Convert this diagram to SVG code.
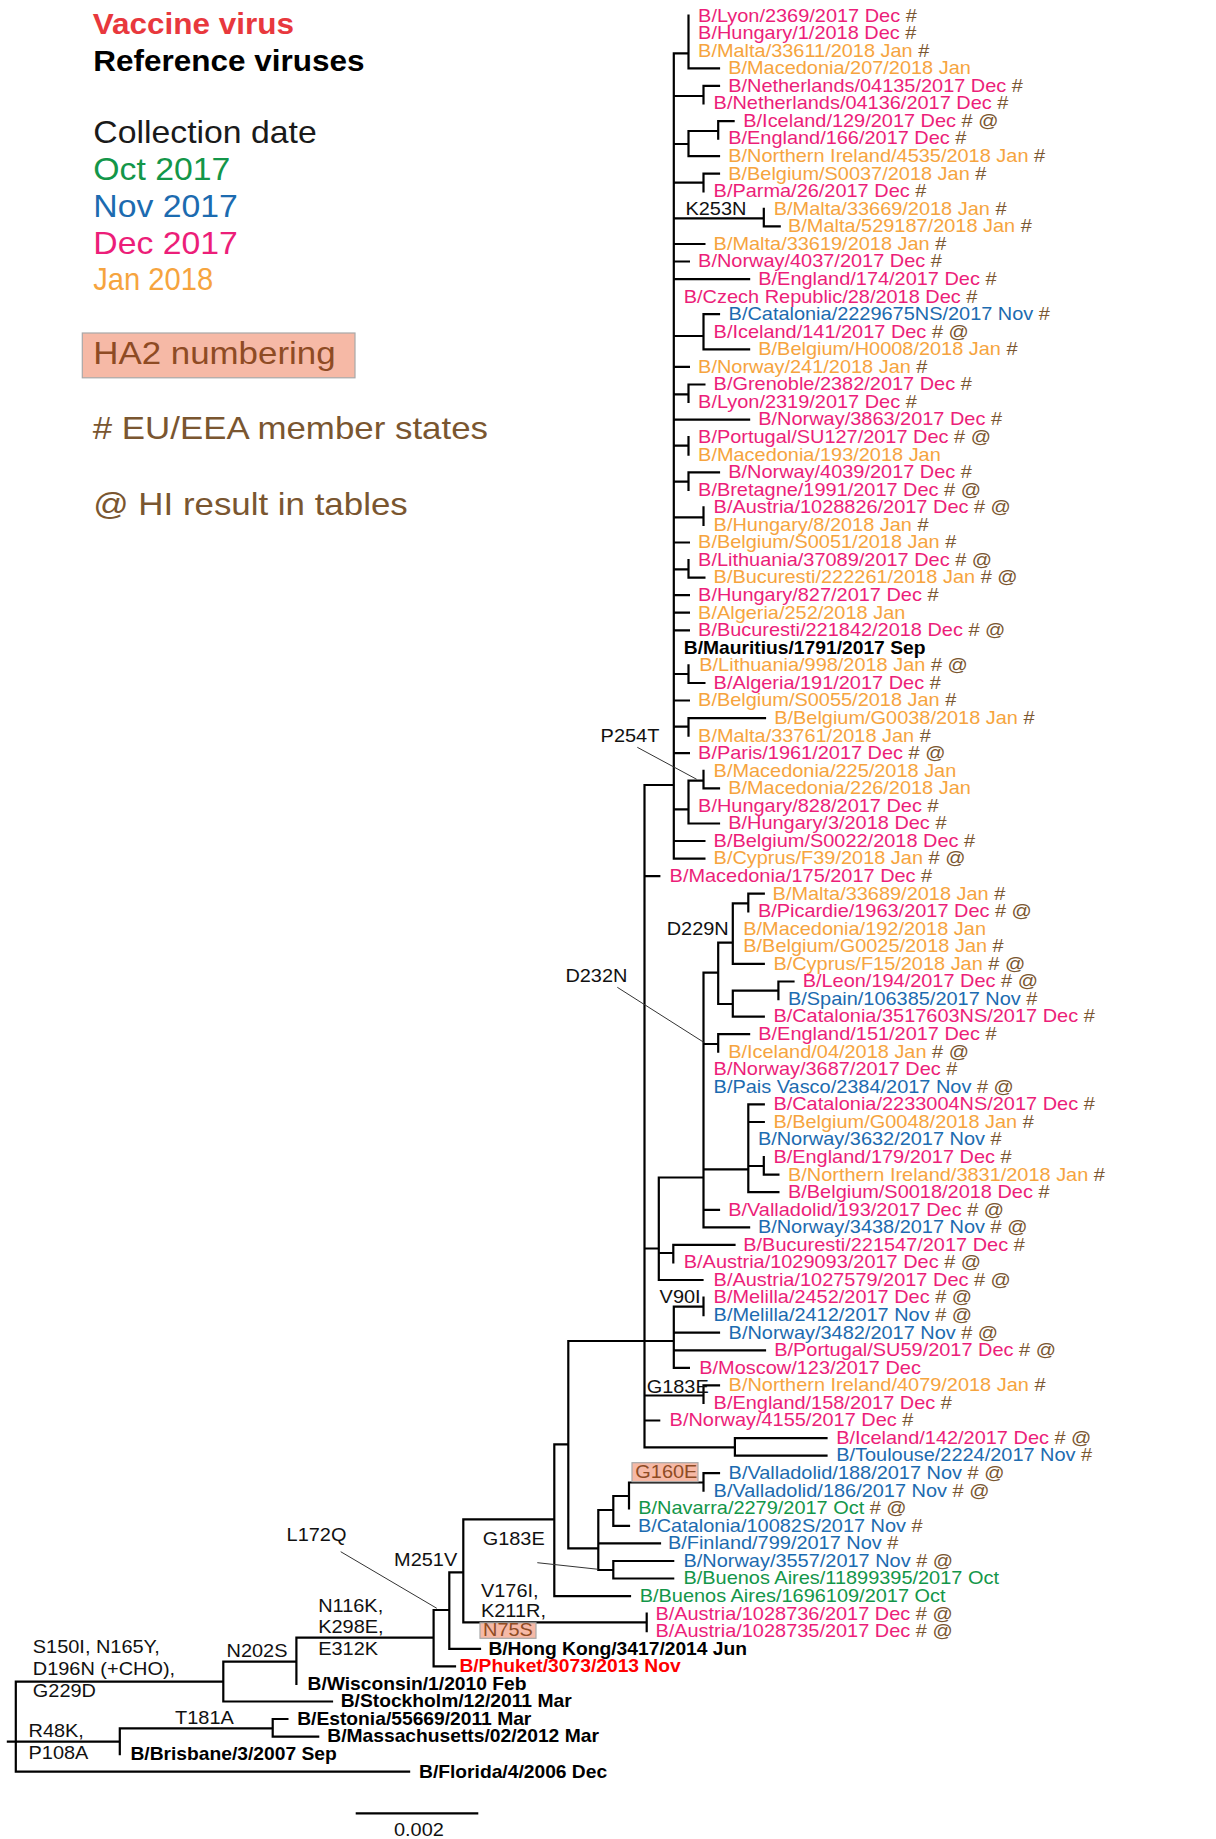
<svg xmlns="http://www.w3.org/2000/svg" width="1216" height="1839" viewBox="0 0 1216 1839">
<style>
.t{font-family:"Liberation Sans",Arial,Helvetica,sans-serif;font-size:18px;transform-box:fill-box;transform-origin:0 0;transform:scaleX(1.108)}
.bd{font-weight:bold;transform:scaleX(1.069)}
.lg{font-size:31px;transform:scaleX(1.125)}
.lb{font-size:28.9px;font-weight:bold;transform:scaleX(1.09)}
.lc{transform:scaleX(1.09)}
.lj{transform:scaleX(0.94)}
.d{fill:#EC1E79}.j{fill:#F6A43E}.n{fill:#1C6BB0}.o{fill:#139649}.h{fill:#7A5630}.k{fill:#000}.r{fill:#FF0000}.vr{fill:#E8383D}.m{fill:#111}.ha{fill:#8E4B24}
.br{fill:none;stroke:#000;stroke-width:2.2;stroke-linecap:square}
.pt{fill:none;stroke:#333;stroke-width:1}
.bx{fill:#F6B9A6;stroke:#A8A8A8;stroke-width:1.2}
</style>
<rect width="1216" height="1839" fill="#fff"/>

<g id="legend">
<text class="t lb vr" x="92.7" y="33.8">Vaccine virus</text>
<text class="t lb k" x="93.3" y="70.6">Reference viruses</text>
<text class="t lg lc" x="93.3" y="142.9" fill="#1a1a1a">Collection date</text>
<text class="t lg lc o" x="93.3" y="179.7">Oct 2017</text>
<text class="t lg lc n" x="93.3" y="217">Nov 2017</text>
<text class="t lg lc d" x="93.3" y="253.8">Dec 2017</text>
<text class="t lg lj j" x="93.3" y="290.3">Jan 2018</text>
<rect class="bx" x="82.3" y="333" width="272.7" height="44.8"/>
<text class="t lg ha" x="93.3" y="364.4">HA2 numbering</text>
<text class="t lg h" x="92.7" y="439.1">#  EU/EEA member states</text>
<text class="t lg h" x="93.3" y="515.5">@  HI result in tables</text>
</g>

<g id="branches">
<path class="br" d="M673.8 53.3V858.6
M673.8 53.3H688.5M688.5 15.7V68.4M688.5 68.4H719
M673.8 96H703.5M703.5 85.9V103.5M703.5 85.9H719
M673.8 144H688.5M688.5 131V156.2M688.5 131H718.2M718.2 121.1V138.6M718.2 121.1H733.6M688.5 156.2H719
M673.8 182.7H703.5M703.5 173.7V191.3M703.5 173.7H719
M673.8 218.3H763.8M763.8 208.9V226.4M763.8 226.4H779.7
M673.8 244H704.4
M673.8 261.5H688.9
M673.8 279.1H749.1
M673.8 336H703.5M703.5 314.2V349.3M703.5 314.2H719M703.5 349.3H749.1
M673.8 366.9H688.9
M673.8 394.3H688.5M688.5 384.5V402M688.5 384.5H704.4
M673.8 419.6H749.1
M673.8 445.7H688.5M688.5 437.1V454.7
M673.8 481.7H688.5M688.5 472.3V489.8M688.5 472.3H719
M673.8 517.3H703.5M703.5 507.4V524.9
M673.8 542.5H688.9
M673.8 569.3H688.5M688.5 560.1V577.6M688.5 577.6H704.4
M673.8 595.2H688.9
M673.8 612.7H688.9
M673.8 630.3H688.9
M673.8 674H688.5M688.5 665.4V683M688.5 683H704.4
M673.8 700.5H688.9
M673.8 726.7H688.5M688.5 718.1V735.7M688.5 718.1H765
M673.8 753.2H688.9
M673.8 809.3H688.5M688.5 780.7V823.5M688.5 780.7H703.5M703.5 770.8V788.3M703.5 788.3H719M688.5 823.5H719
M673.8 841H704.4
M673.8 858.6H704.4
M644.5 785V1447.3M644.5 785H673.8
M644.5 876.1H659.3
M658.8 1177.5V1280M644.5 1248.5H658.8
M658.8 1177.5H703.5M703.5 972.7V1227.3
M703.5 972.7H718.2M718.2 942.7V1004
M718.2 942.7H732.8M732.8 903.3V963.9
M732.8 903.3H748.3M748.3 893.7V911.3M748.3 893.7H763.8
M732.8 963.9H763.8
M718.2 1004H732.8M732.8 990.7V1016.6
M732.8 990.7H778.4M778.4 981.5V999.1M778.4 981.5H793.5
M732.8 1016.6H763.8
M703.5 1044H718.2M718.2 1034.2V1051.7M718.2 1034.2H749.1
M703.5 1169.3H748.3M748.3 1104.4V1192.2M748.3 1104.4H763.8M748.3 1122H763.8
M748.3 1166H763.8M763.8 1157.1V1174.7M763.8 1174.7H778.4
M748.3 1192.2H778.4
M703.5 1209.8H719
M703.5 1227.3H749.1
M658.8 1253H673.3M673.3 1244.9V1262.5M673.3 1244.9H734.5
M658.8 1280H702.5
M568.3 1341H673.8M673.8 1306.7V1367.8
M673.8 1306.7H703.5M703.5 1297.6V1315.1
M673.8 1332.7H719
M673.8 1350.3H765
M673.8 1367.8H688.9
M644.5 1395.5H703.5M703.5 1385.4V1402.9M703.5 1385.4H719
M644.5 1420.5H659.2
M644.5 1447.3H734.9M734.9 1438.1V1455.6M734.9 1438.1H826.5M734.9 1455.6H826.5
M568.3 1341V1548.3M554.3 1444.3H568.3M568.3 1548.3H598.3
M598.3 1510V1570
M598.3 1510H613.3M613.3 1496V1525.9
M613.3 1496H629M629 1482.5V1508.3
M629 1482.5H703.5M703.5 1473.2V1490.7M703.5 1473.2H719
M613.3 1525.9H629
M598.3 1543.4H660
M598.3 1570H613.3M613.3 1561V1578.5M613.3 1561H673.2M613.3 1578.5H673.2
M554.3 1444.3V1596.1M554.3 1596.1H630
M463.3 1519.3H554.3M463.3 1519.3V1622.3M463.3 1622.3H646.7M646.7 1613.7V1631.2
M449.3 1572.3H463.3M449.3 1572.3V1648.8M449.3 1648.8H480
M433.6 1610H449.3M433.6 1610V1666.3M433.6 1666.3H455
M296.4 1637.7H433.6M296.4 1637.7V1683.9
M223.3 1661.7H296.4M223.3 1661.7V1701.5M223.3 1701.5H332
M15.8 1681.7H223.3M15.8 1681.7V1771.7M15.8 1771.7H409.1
M7.9 1741.7H119.8M119.8 1728.3V1754.1M119.8 1728.3H272.7M272.7 1719V1736.6M272.7 1719H287.4M272.7 1736.6H318.2"/>
<path class="pt" d="M637.3 747.3L696.7 779.3M617.3 987.3L704.4 1042.7M537.3 1562.7L598.3 1569.3M340.7 1551.7L436.8 1608.3"/>
</g>

<g id="mutations">
<text class="t m" x="685.5" y="215">K253N</text>
<text class="t m" x="600.6" y="741.7">P254T</text>
<text class="t m" x="666.7" y="935">D229N</text>
<text class="t m" x="565.4" y="981.7">D232N</text>
<text class="t m" x="659.6" y="1303">V90I</text>
<text class="t m" x="646.7" y="1392.7">G183E</text>
<g id="mut-G160E"><rect class="bx" x="632" y="1462.7" width="66" height="19"/><text class="t ha" x="635.3" y="1478">G160E</text></g>
<text class="t m" x="482.7" y="1545">G183E</text>
<text class="t m" x="286.6" y="1540.7">L172Q</text>
<text class="t m" x="394.1" y="1566">M251V</text>
<text class="t m" x="481" y="1597">V176I,</text>
<text class="t m" x="481" y="1617">K211R,</text>
<g id="mut-N75S"><rect class="bx" x="480" y="1622.8" width="56" height="15.5"/><text class="t ha" x="483" y="1635.6">N75S</text></g>
<text class="t m" x="318.2" y="1611.7">N116K,</text>
<text class="t m" x="318.2" y="1633.3">K298E,</text>
<text class="t m" x="318.2" y="1655">E312K</text>
<text class="t m" x="226.5" y="1656.7">N202S</text>
<text class="t m" x="32.8" y="1653.3">S150I, N165Y,</text>
<text class="t m" x="32.8" y="1675">D196N (+CHO),</text>
<text class="t m" x="32.8" y="1696.7">G229D</text>
<text class="t m" x="175.1" y="1724">T181A</text>
<text class="t m" x="28.5" y="1737.3">R48K,</text>
<text class="t m" x="28.5" y="1759.3">P108A</text>
</g>

<g id="scalebar">
<path class="br" d="M355.7 1813.3H478.3" style="stroke-linecap:butt"/>
<text class="t m" x="394" y="1836">0.002</text>
</g>

<g id="leaves">
<g id="leaf-1"><text class="t d" x="698.1" y="21.6">B/Lyon/2369/2017 Dec<tspan class="h"> #</tspan></text></g>
<g id="leaf-2"><text class="t d" x="698.1" y="39.2">B/Hungary/1/2018 Dec<tspan class="h"> #</tspan></text></g>
<g id="leaf-3"><text class="t j" x="698.1" y="56.7">B/Malta/33611/2018 Jan<tspan class="h"> #</tspan></text></g>
<g id="leaf-4"><text class="t j" x="728.2" y="74.3">B/Macedonia/207/2018 Jan</text></g>
<g id="leaf-5"><text class="t d" x="728.2" y="91.8">B/Netherlands/04135/2017 Dec<tspan class="h"> #</tspan></text></g>
<g id="leaf-6"><text class="t d" x="713.6" y="109.4">B/Netherlands/04136/2017 Dec<tspan class="h"> #</tspan></text></g>
<g id="leaf-7"><text class="t d" x="743.3" y="127">B/Iceland/129/2017 Dec<tspan class="h"> # @</tspan></text></g>
<g id="leaf-8"><text class="t d" x="728.2" y="144.5">B/England/166/2017 Dec<tspan class="h"> #</tspan></text></g>
<g id="leaf-9"><text class="t j" x="728.2" y="162.1">B/Northern Ireland/4535/2018 Jan<tspan class="h"> #</tspan></text></g>
<g id="leaf-10"><text class="t j" x="728.2" y="179.6">B/Belgium/S0037/2018 Jan<tspan class="h"> #</tspan></text></g>
<g id="leaf-11"><text class="t d" x="713.6" y="197.2">B/Parma/26/2017 Dec<tspan class="h"> #</tspan></text></g>
<g id="leaf-12"><text class="t j" x="773.8" y="214.8">B/Malta/33669/2018 Jan<tspan class="h"> #</tspan></text></g>
<g id="leaf-13"><text class="t j" x="788" y="232.3">B/Malta/529187/2018 Jan<tspan class="h"> #</tspan></text></g>
<g id="leaf-14"><text class="t j" x="713.6" y="249.9">B/Malta/33619/2018 Jan<tspan class="h"> #</tspan></text></g>
<g id="leaf-15"><text class="t d" x="698.1" y="267.4">B/Norway/4037/2017 Dec<tspan class="h"> #</tspan></text></g>
<g id="leaf-16"><text class="t d" x="758.3" y="285">B/England/174/2017 Dec<tspan class="h"> #</tspan></text></g>
<g id="leaf-17"><text class="t d" x="683.8" y="302.6">B/Czech Republic/28/2018 Dec<tspan class="h"> #</tspan></text></g>
<g id="leaf-18"><text class="t n" x="728.6" y="320.1">B/Catalonia/2229675NS/2017 Nov<tspan class="h"> #</tspan></text></g>
<g id="leaf-19"><text class="t d" x="713.6" y="337.7">B/Iceland/141/2017 Dec<tspan class="h"> # @</tspan></text></g>
<g id="leaf-20"><text class="t j" x="758.3" y="355.2">B/Belgium/H0008/2018 Jan<tspan class="h"> #</tspan></text></g>
<g id="leaf-21"><text class="t j" x="698.1" y="372.8">B/Norway/241/2018 Jan<tspan class="h"> #</tspan></text></g>
<g id="leaf-22"><text class="t d" x="713.6" y="390.4">B/Grenoble/2382/2017 Dec<tspan class="h"> #</tspan></text></g>
<g id="leaf-23"><text class="t d" x="698.1" y="407.9">B/Lyon/2319/2017 Dec<tspan class="h"> #</tspan></text></g>
<g id="leaf-24"><text class="t d" x="758.3" y="425.5">B/Norway/3863/2017 Dec<tspan class="h"> #</tspan></text></g>
<g id="leaf-25"><text class="t d" x="698.1" y="443">B/Portugal/SU127/2017 Dec<tspan class="h"> # @</tspan></text></g>
<g id="leaf-26"><text class="t j" x="698.1" y="460.6">B/Macedonia/193/2018 Jan</text></g>
<g id="leaf-27"><text class="t d" x="728.2" y="478.2">B/Norway/4039/2017 Dec<tspan class="h"> #</tspan></text></g>
<g id="leaf-28"><text class="t d" x="698.1" y="495.7">B/Bretagne/1991/2017 Dec<tspan class="h"> # @</tspan></text></g>
<g id="leaf-29"><text class="t d" x="713.6" y="513.3">B/Austria/1028826/2017 Dec<tspan class="h"> # @</tspan></text></g>
<g id="leaf-30"><text class="t j" x="713.6" y="530.8">B/Hungary/8/2018 Jan<tspan class="h"> #</tspan></text></g>
<g id="leaf-31"><text class="t j" x="698.1" y="548.4">B/Belgium/S0051/2018 Jan<tspan class="h"> #</tspan></text></g>
<g id="leaf-32"><text class="t d" x="698.1" y="566">B/Lithuania/37089/2017 Dec<tspan class="h"> # @</tspan></text></g>
<g id="leaf-33"><text class="t j" x="713.6" y="583.5">B/Bucuresti/222261/2018 Jan<tspan class="h"> # @</tspan></text></g>
<g id="leaf-34"><text class="t d" x="698.1" y="601.1">B/Hungary/827/2017 Dec<tspan class="h"> #</tspan></text></g>
<g id="leaf-35"><text class="t j" x="698.1" y="618.6">B/Algeria/252/2018 Jan</text></g>
<g id="leaf-36"><text class="t d" x="698.1" y="636.2">B/Bucuresti/221842/2018 Dec<tspan class="h"> # @</tspan></text></g>
<g id="leaf-37"><text class="t bd k" x="683.8" y="653.8">B/Mauritius/1791/2017 Sep</text></g>
<g id="leaf-38"><text class="t j" x="699.3" y="671.3">B/Lithuania/998/2018 Jan<tspan class="h"> # @</tspan></text></g>
<g id="leaf-39"><text class="t d" x="713.6" y="688.9">B/Algeria/191/2017 Dec<tspan class="h"> #</tspan></text></g>
<g id="leaf-40"><text class="t j" x="698.1" y="706.4">B/Belgium/S0055/2018 Jan<tspan class="h"> #</tspan></text></g>
<g id="leaf-41"><text class="t j" x="774.2" y="724">B/Belgium/G0038/2018 Jan<tspan class="h"> #</tspan></text></g>
<g id="leaf-42"><text class="t j" x="698.1" y="741.6">B/Malta/33761/2018 Jan<tspan class="h"> #</tspan></text></g>
<g id="leaf-43"><text class="t d" x="698.1" y="759.1">B/Paris/1961/2017 Dec<tspan class="h"> # @</tspan></text></g>
<g id="leaf-44"><text class="t j" x="713.6" y="776.7">B/Macedonia/225/2018 Jan</text></g>
<g id="leaf-45"><text class="t j" x="728.2" y="794.2">B/Macedonia/226/2018 Jan</text></g>
<g id="leaf-46"><text class="t d" x="698.1" y="811.8">B/Hungary/828/2017 Dec<tspan class="h"> #</tspan></text></g>
<g id="leaf-47"><text class="t d" x="728.2" y="829.4">B/Hungary/3/2018 Dec<tspan class="h"> #</tspan></text></g>
<g id="leaf-48"><text class="t d" x="713.6" y="846.9">B/Belgium/S0022/2018 Dec<tspan class="h"> #</tspan></text></g>
<g id="leaf-49"><text class="t j" x="713.6" y="864.5">B/Cyprus/F39/2018 Jan<tspan class="h"> # @</tspan></text></g>
<g id="leaf-50"><text class="t d" x="669.6" y="882">B/Macedonia/175/2017 Dec<tspan class="h"> #</tspan></text></g>
<g id="leaf-51"><text class="t j" x="772.6" y="899.6">B/Malta/33689/2018 Jan<tspan class="h"> #</tspan></text></g>
<g id="leaf-52"><text class="t d" x="757.9" y="917.2">B/Picardie/1963/2017 Dec<tspan class="h"> # @</tspan></text></g>
<g id="leaf-53"><text class="t j" x="743.3" y="934.7">B/Macedonia/192/2018 Jan</text></g>
<g id="leaf-54"><text class="t j" x="743.3" y="952.3">B/Belgium/G0025/2018 Jan<tspan class="h"> #</tspan></text></g>
<g id="leaf-55"><text class="t j" x="773.4" y="969.8">B/Cyprus/F15/2018 Jan<tspan class="h"> # @</tspan></text></g>
<g id="leaf-56"><text class="t d" x="802.7" y="987.4">B/Leon/194/2017 Dec<tspan class="h"> # @</tspan></text></g>
<g id="leaf-57"><text class="t n" x="788" y="1005">B/Spain/106385/2017 Nov<tspan class="h"> #</tspan></text></g>
<g id="leaf-58"><text class="t d" x="773.4" y="1022.5">B/Catalonia/3517603NS/2017 Dec<tspan class="h"> #</tspan></text></g>
<g id="leaf-59"><text class="t d" x="758.3" y="1040.1">B/England/151/2017 Dec<tspan class="h"> #</tspan></text></g>
<g id="leaf-60"><text class="t j" x="728.2" y="1057.6">B/Iceland/04/2018 Jan<tspan class="h"> # @</tspan></text></g>
<g id="leaf-61"><text class="t d" x="713.6" y="1075.2">B/Norway/3687/2017 Dec<tspan class="h"> #</tspan></text></g>
<g id="leaf-62"><text class="t n" x="713.6" y="1092.8">B/Pais Vasco/2384/2017 Nov<tspan class="h"> # @</tspan></text></g>
<g id="leaf-63"><text class="t d" x="773.4" y="1110.3">B/Catalonia/2233004NS/2017 Dec<tspan class="h"> #</tspan></text></g>
<g id="leaf-64"><text class="t j" x="773.4" y="1127.9">B/Belgium/G0048/2018 Jan<tspan class="h"> #</tspan></text></g>
<g id="leaf-65"><text class="t n" x="757.9" y="1145.4">B/Norway/3632/2017 Nov<tspan class="h"> #</tspan></text></g>
<g id="leaf-66"><text class="t d" x="773.4" y="1163">B/England/179/2017 Dec<tspan class="h"> #</tspan></text></g>
<g id="leaf-67"><text class="t j" x="788" y="1180.6">B/Northern Ireland/3831/2018 Jan<tspan class="h"> #</tspan></text></g>
<g id="leaf-68"><text class="t d" x="788" y="1198.1">B/Belgium/S0018/2018 Dec<tspan class="h"> #</tspan></text></g>
<g id="leaf-69"><text class="t d" x="728.2" y="1215.7">B/Valladolid/193/2017 Dec<tspan class="h"> # @</tspan></text></g>
<g id="leaf-70"><text class="t n" x="757.9" y="1233.2">B/Norway/3438/2017 Nov<tspan class="h"> # @</tspan></text></g>
<g id="leaf-71"><text class="t d" x="743.3" y="1250.8">B/Bucuresti/221547/2017 Dec<tspan class="h"> #</tspan></text></g>
<g id="leaf-72"><text class="t d" x="683.8" y="1268.4">B/Austria/1029093/2017 Dec<tspan class="h"> # @</tspan></text></g>
<g id="leaf-73"><text class="t d" x="713.6" y="1285.9">B/Austria/1027579/2017 Dec<tspan class="h"> # @</tspan></text></g>
<g id="leaf-74"><text class="t d" x="713.6" y="1303.5">B/Melilla/2452/2017 Dec<tspan class="h"> # @</tspan></text></g>
<g id="leaf-75"><text class="t n" x="713.6" y="1321">B/Melilla/2412/2017 Nov<tspan class="h"> # @</tspan></text></g>
<g id="leaf-76"><text class="t n" x="728.6" y="1338.6">B/Norway/3482/2017 Nov<tspan class="h"> # @</tspan></text></g>
<g id="leaf-77"><text class="t d" x="774.2" y="1356.2">B/Portugal/SU59/2017 Dec<tspan class="h"> # @</tspan></text></g>
<g id="leaf-78"><text class="t d" x="699.3" y="1373.7">B/Moscow/123/2017 Dec</text></g>
<g id="leaf-79"><text class="t j" x="728.6" y="1391.3">B/Northern Ireland/4079/2018 Jan<tspan class="h"> #</tspan></text></g>
<g id="leaf-80"><text class="t d" x="713.6" y="1408.8">B/England/158/2017 Dec<tspan class="h"> #</tspan></text></g>
<g id="leaf-81"><text class="t d" x="669.6" y="1426.4">B/Norway/4155/2017 Dec<tspan class="h"> #</tspan></text></g>
<g id="leaf-82"><text class="t d" x="836.2" y="1444">B/Iceland/142/2017 Dec<tspan class="h"> # @</tspan></text></g>
<g id="leaf-83"><text class="t n" x="836.2" y="1461.5">B/Toulouse/2224/2017 Nov<tspan class="h"> #</tspan></text></g>
<g id="leaf-84"><text class="t n" x="728.6" y="1479.1">B/Valladolid/188/2017 Nov<tspan class="h"> # @</tspan></text></g>
<g id="leaf-85"><text class="t n" x="713.6" y="1496.6">B/Valladolid/186/2017 Nov<tspan class="h"> # @</tspan></text></g>
<g id="leaf-86"><text class="t o" x="638.2" y="1514.2">B/Navarra/2279/2017 Oct<tspan class="h"> # @</tspan></text></g>
<g id="leaf-87"><text class="t n" x="637.9" y="1531.8">B/Catalonia/10082S/2017 Nov<tspan class="h"> #</tspan></text></g>
<g id="leaf-88"><text class="t n" x="667.9" y="1549.3">B/Finland/799/2017 Nov<tspan class="h"> #</tspan></text></g>
<g id="leaf-89"><text class="t n" x="683.5" y="1566.9">B/Norway/3557/2017 Nov<tspan class="h"> # @</tspan></text></g>
<g id="leaf-90"><text class="t o" x="683.5" y="1584.4">B/Buenos Aires/11899395/2017 Oct</text></g>
<g id="leaf-91"><text class="t o" x="639.7" y="1602">B/Buenos Aires/1696109/2017 Oct</text></g>
<g id="leaf-92"><text class="t d" x="655.4" y="1619.6">B/Austria/1028736/2017 Dec<tspan class="h"> # @</tspan></text></g>
<g id="leaf-93"><text class="t d" x="655.4" y="1637.1">B/Austria/1028735/2017 Dec<tspan class="h"> # @</tspan></text></g>
<g id="leaf-94"><text class="t bd k" x="488.4" y="1655.5">B/Hong Kong/3417/2014 Jun</text></g>
<g id="leaf-95"><text class="t bd r" x="459.4" y="1672.2">B/Phuket/3073/2013 Nov</text></g>
<g id="leaf-96"><text class="t bd k" x="307.5" y="1689.8">B/Wisconsin/1/2010 Feb</text></g>
<g id="leaf-97"><text class="t bd k" x="340.7" y="1707.4">B/Stockholm/12/2011 Mar</text></g>
<g id="leaf-98"><text class="t bd k" x="297.2" y="1724.9">B/Estonia/55669/2011 Mar</text></g>
<g id="leaf-99"><text class="t bd k" x="327.3" y="1742.5">B/Massachusetts/02/2012 Mar</text></g>
<g id="leaf-100"><text class="t bd k" x="130.4" y="1760">B/Brisbane/3/2007 Sep</text></g>
<g id="leaf-101"><text class="t bd k" x="419" y="1777.6">B/Florida/4/2006 Dec</text></g>
</g>
</svg>
